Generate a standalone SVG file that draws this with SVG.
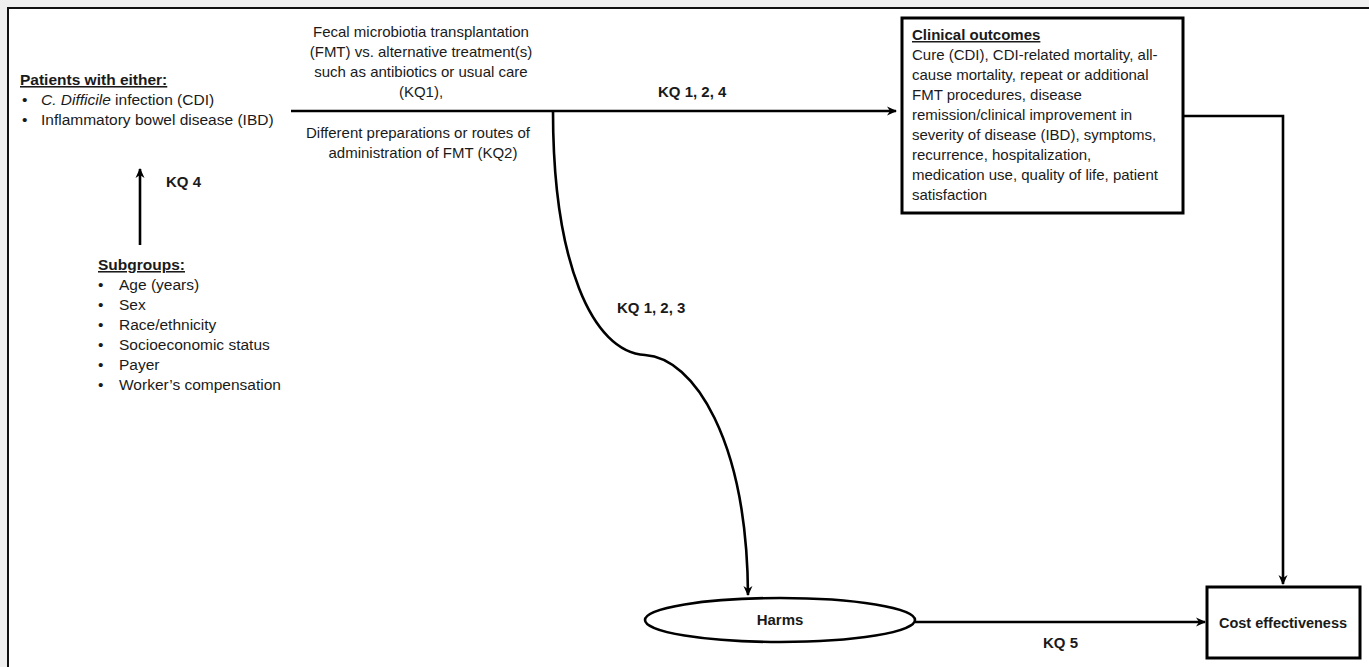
<svg xmlns="http://www.w3.org/2000/svg" width="1369" height="667" viewBox="0 0 1369 667">
<style>
text{font-family:"Liberation Sans",Arial,sans-serif;font-size:15px;fill:#1a1a1a}
.b{font-weight:bold}
.u{text-decoration:underline}
.c{text-anchor:middle}
.l{font-size:15.5px}
.ln{fill:none;stroke:#000;stroke-width:2.6}
.box{fill:#fff;stroke:#000;stroke-width:3}
</style>
<defs>
<marker id="ah" markerWidth="12" markerHeight="12" refX="10" refY="6" orient="auto" markerUnits="userSpaceOnUse">
<path d="M1,1.5 L11,6 L1,10.5 L4,6 z" fill="#000"/>
</marker>
</defs>
<rect x="0" y="0" width="1369" height="667" fill="#efefef"/>
<rect x="8" y="8" width="1380" height="680" fill="#fff" stroke="#111" stroke-width="2"/>

<g id="connectors">
<path class="ln" d="M291,111 L896,111" marker-end="url(#ah)"/>
<path class="ln" d="M553,111 C553,262 592,352 645,355 C694,358 747,440 748,595" marker-end="url(#ah)"/>
<path class="ln" d="M140,245 L140,169" marker-end="url(#ah)"/>
<path class="ln" d="M1183,116 L1283,116 L1283,584" marker-end="url(#ah)"/>
<path class="ln" d="M915,622 L1205,622" marker-end="url(#ah)"/>
<text class="b" x="658" y="97">KQ 1, 2, 4</text>
<text class="b" x="617" y="313">KQ 1, 2, 3</text>
<text class="b" x="166" y="187">KQ 4</text>
<text class="b" x="1043" y="648">KQ 5</text>
</g>

<g id="patients">
<text class="b u l" x="20" y="85">Patients with either:</text>
<text class="l" x="22" y="105">•</text><text class="l" x="41" y="105"><tspan font-style="italic">C. Difficile</tspan> infection (CDI)</text>
<text class="l" x="22" y="125">•</text><text class="l" x="41" y="125">Inflammatory bowel disease (IBD)</text>
</g>

<g id="intervention">
<text class="c" x="421" y="37">Fecal microbiotia transplantation</text>
<text class="c" x="421" y="57">(FMT) vs. alternative treatment(s)</text>
<text class="c" x="421" y="77">such as antibiotics or usual care</text>
<text class="c" x="421" y="97">(KQ1),</text>
<text class="c" x="418" y="138">Different preparations or routes of</text>
<text class="c" x="423" y="158">administration of FMT (KQ2)</text>
</g>

<g id="subgroups">
<text class="b u l" x="98" y="270">Subgroups:</text>
<text class="l" x="98" y="290">•</text><text class="l" x="119" y="290">Age (years)</text>
<text class="l" x="98" y="310">•</text><text class="l" x="119" y="310">Sex</text>
<text class="l" x="98" y="330">•</text><text class="l" x="119" y="330">Race/ethnicity</text>
<text class="l" x="98" y="350">•</text><text class="l" x="119" y="350">Socioeconomic status</text>
<text class="l" x="98" y="370">•</text><text class="l" x="119" y="370">Payer</text>
<text class="l" x="98" y="390">•</text><text class="l" x="119" y="390">Worker’s compensation</text>
</g>

<g id="clinical">
<rect class="box" x="902" y="18" width="281" height="195"/>
<text class="b u" x="912" y="40">Clinical outcomes</text>
<text x="912" y="60">Cure (CDI), CDI-related mortality, all-</text>
<text x="912" y="80">cause mortality, repeat or additional</text>
<text x="912" y="100">FMT procedures, disease</text>
<text x="912" y="120">remission/clinical improvement in</text>
<text x="912" y="140">severity of disease (IBD), symptoms,</text>
<text x="912" y="160">recurrence, hospitalization,</text>
<text x="912" y="180">medication use, quality of life, patient</text>
<text x="912" y="200">satisfaction</text>
</g>

<g id="harms">
<ellipse cx="780" cy="620" rx="135" ry="22" fill="#fff" stroke="#000" stroke-width="2.6"/>
<text class="b c" x="780" y="625">Harms</text>
</g>

<g id="cost">
<rect class="box" x="1207" y="587" width="153" height="71"/>
<text class="b c" x="1283" y="628" style="font-size:14.5px">Cost effectiveness</text>
</g>
</svg>
